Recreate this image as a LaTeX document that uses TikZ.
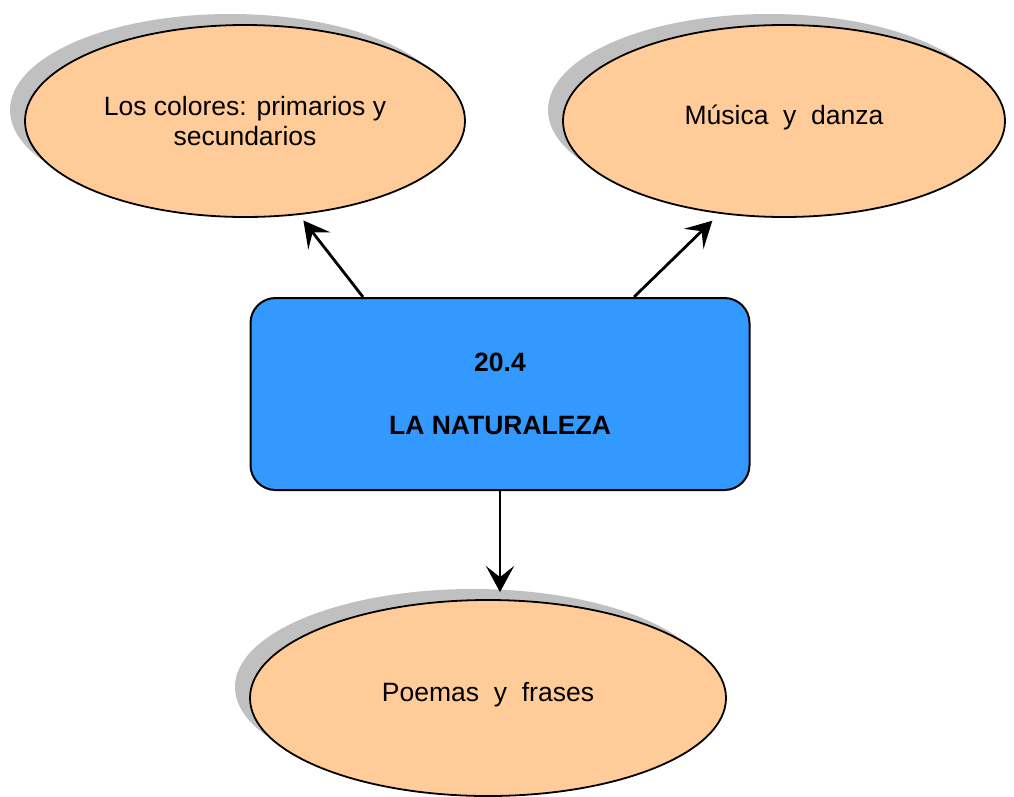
\documentclass[tikz,border=0pt]{standalone}
\usepackage{fontspec}
\setmainfont{Liberation Sans}
\definecolor{peach}{RGB}{255, 204, 153}
\definecolor{boxblue}{RGB}{51, 153, 255}
\definecolor{shadowgray}{RGB}{192, 192, 192}
\usetikzlibrary{shapes.geometric, arrows.meta, positioning}

\begin{document}
\begin{tikzpicture}[x=1pt, y=-1pt,
  topic/.style={draw, ellipse, fill=peach, line width=1.8pt, inner sep=0pt, align=center,
    font=\fontsize{26.5}{30}\selectfont,
    preaction={fill=shadowgray, transform canvas={shift={(-15pt,11pt)}}}},
  mainbox/.style={draw, fill=boxblue, rounded corners=25pt, line width=2pt, align=center,
    minimum width=499pt, minimum height=192pt, font=\fontsize{26.5}{30}\selectfont\bfseries},
  arr/.style={-{Stealth[length=26pt, width=28pt, inset=11pt]}, line width=2.8pt}
]
  \useasboundingbox (0,0) rectangle (1014,796);

  \node[topic, minimum width=440pt, minimum height=192pt] (colores) at (245, 121)
    {Los colores: primarios y\\secundarios};
  \node[topic, minimum width=442pt, minimum height=192pt] (musica) at (784, 121)
    {\raisebox{13pt}{M\'usica\ \ y\ \ danza}};
  \node[topic, minimum width=476pt, minimum height=196pt] (poemas) at (488, 698)
    {\raisebox{12pt}{Poemas\ \ y\ \ frases}};

  \node[mainbox] (box) at (500, 394) {20.4\\[33pt]LA NATURALEZA};

  \draw[arr] ([xshift=-137pt]box.north) -- ([yshift=-6pt]colores.-58);
  \draw[arr] ([xshift=134pt]box.north) -- ([yshift=-8pt]musica.232);
  \draw[arr] (box.south) -- ([yshift=7pt]poemas.north -| box.south);
\end{tikzpicture}
\end{document}
